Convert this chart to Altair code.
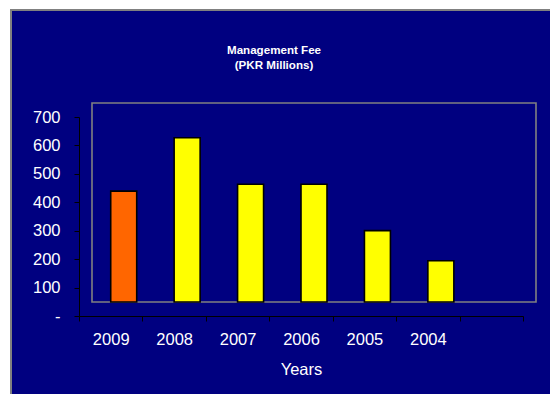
import altair as alt
import pandas as pd

# Management fee by year (PKR millions)
years = ["2009", "2008", "2007", "2006", "2005", "2004"]
fees = [390, 578, 414, 414, 251, 145]
bar_colors = ["#FF6600", "#FFFF00", "#FFFF00", "#FFFF00", "#FFFF00", "#FFFF00"]

# an empty trailing slot keeps the category axis one band longer
x_domain = years + [" "]
y_ticks = [0, 100, 200, 300, 400, 500, 600, 700]
title_lines = ["Management Fee", "(PKR Millions)"]

W, H = 444, 199
DEPTH_X, DEPTH_Y = 13, -14
FONT = "Liberation Sans"
NAVY = "#000080"
GREY = "#808080"

df = pd.DataFrame({"Year": years, "Fee": fees})
one = pd.DataFrame({"k": [0]})

x_scale = alt.Scale(domain=x_domain, paddingInner=0, paddingOuter=0)
y_scale = alt.Scale(domain=[0, 700], nice=False, zero=True)

y_axis = alt.Axis(
    title=None, values=y_ticks, grid=False, zindex=2,
    labelOverlap=False,
    labelExpr="datum.value == 0 ? '-' : datum.label",
    domainColor="black", tickColor="black", tickSize=5,
    labelColor="white", labelFont=FONT, labelFontSize=16.5,
    labelPadding=14,
)

# navy chart area with grey frame
backdrop = alt.Chart(one).mark_rect(
    fill=NAVY, stroke=GREY, strokeWidth=2
).encode(
    x=alt.value(-68), x2=alt.value(W + 120),
    y=alt.value(-107), y2=alt.value(H + 120),
)

# two-line chart heading
heading = [
    alt.Chart(one).mark_text(
        text=line, color="white", font=FONT, fontSize=11.6, fontWeight="bold",
        align="center", baseline="alphabetic",
    ).encode(x=alt.value(195), y=alt.value(-63 + 15 * i))
    for i, line in enumerate(title_lines)
]

# back wall of the plot, pushed back by the depth offset
wall = alt.Chart(one).mark_rect(
    fill=None, stroke=GREY, strokeWidth=1.6,
    xOffset=DEPTH_X, x2Offset=DEPTH_X, yOffset=DEPTH_Y, y2Offset=DEPTH_Y,
).encode(
    x=alt.value(0), x2=alt.value(W),
    y=alt.Y(datum=700, scale=y_scale, axis=y_axis), y2=alt.datum(0),
)

bars = alt.Chart(df).mark_bar(
    stroke="black", strokeWidth=1.6, width=alt.RelativeBandSize(0.41),
    xOffset=DEPTH_X, yOffset=DEPTH_Y, y2Offset=DEPTH_Y,
).encode(
    x=alt.X(
        "Year:N", scale=x_scale, sort=x_domain,
        axis=alt.Axis(
            title="Years", tickBand="extent", labelAngle=0, zindex=2,
            domainColor="black", tickColor="black", tickSize=5,
            labelColor="white", labelFont=FONT, labelFontSize=16.5,
            labelPadding=10, titleColor="white", titleFont=FONT,
            titleFontSize=16.5, titleFontWeight="normal", titlePadding=14,
        ),
    ),
    y=alt.Y("Fee:Q", scale=y_scale, axis=y_axis),
    y2=alt.datum(0),
    color=alt.Color("Year:N", scale=alt.Scale(domain=years, range=bar_colors), legend=None),
)

chart = alt.layer(backdrop, *heading, wall, bars).properties(
    width=W, height=H,
    autosize=alt.AutoSizeParams(type="none"),
    padding={"left": 79, "top": 117, "right": 27, "bottom": 78},
    background="white",
).configure_view(stroke=None)

chart.save("out.html", embed_options={"renderer": "svg", "actions": False})
